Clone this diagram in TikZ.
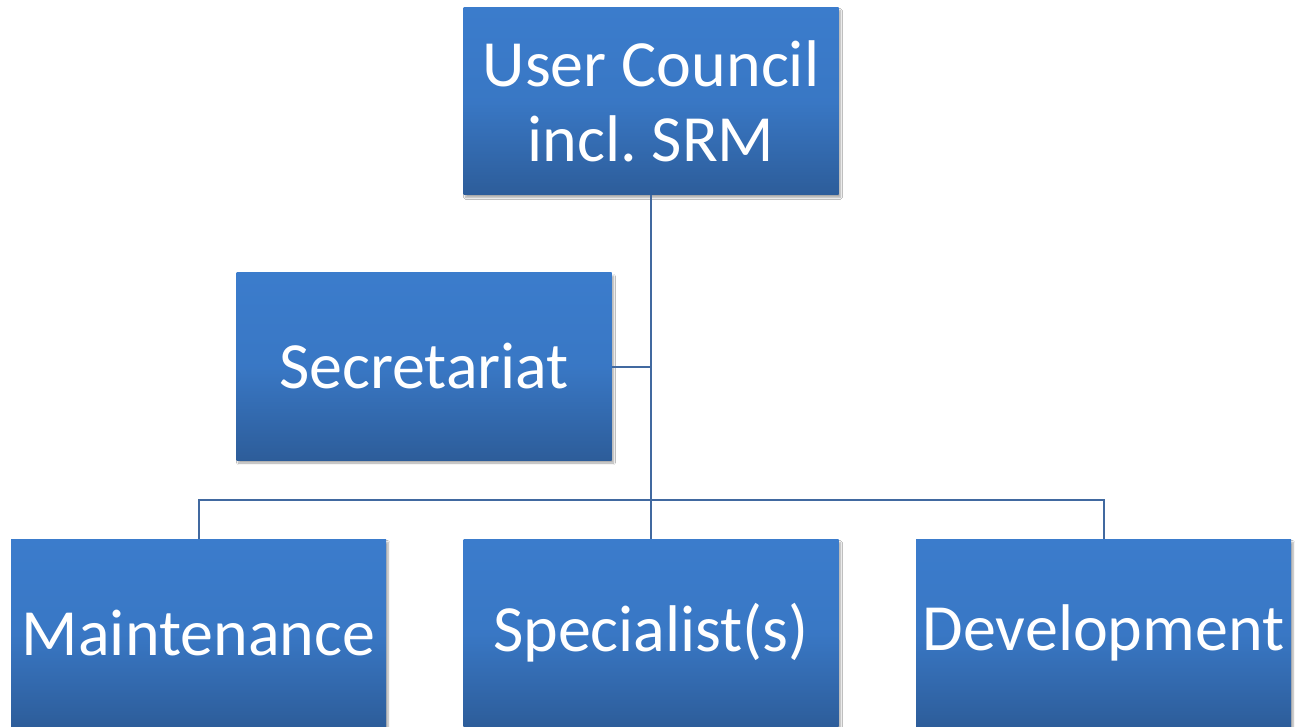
\documentclass[tikz,border=0pt]{standalone}
\usepackage{fontspec}
\setmainfont{Carlito}
\usetikzlibrary{shadows.blur}
\definecolor{boxtop}{HTML}{3B7CCC}
\definecolor{boxbot}{HTML}{2D5D9A}
\definecolor{linkcol}{HTML}{4169A0}
\tikzset{
  orgbox/.style={rectangle, minimum width=375pt, minimum height=187pt, inner sep=0pt,
    top color=boxtop, bottom color=boxbot, middle color=boxtop!85!boxbot,
    text=white, align=center,
    font=\fontsize{66}{75}\selectfont,
    blur shadow={shadow xshift=2pt, shadow yshift=-3pt, shadow blur steps=6, shadow opacity=35}},
  link/.style={draw=linkcol, line width=2pt}
}
\begin{document}
\begin{tikzpicture}[x=1pt,y=-1pt]
\useasboundingbox (0,0) rectangle (1296,727);
\clip (0,0) rectangle (1296,727);
\fill[white] (0,0) rectangle (1296,727);
\coordinate (hl) at (198.5,500);
\coordinate (hr) at (1103.5,500);
\coordinate (sj) at (651,366.5);
\node[orgbox] (uc) at (651,101) {User Council\\incl.\ SRM};
\node[orgbox] (sec) at (424,366.5) {Secretariat};
\node[orgbox] (mai) at (198.5,633) {Maintenance};
\node[orgbox] (spe) at (651,633) {Specialist(s)};
\node[orgbox] (dev) at (1103.5,633) {Development};
\draw[link] (uc.south) -- (spe.north);
\draw[link] (sec.east) -- (sj);
\draw[link] (mai.north) -- (hl) -- (hr) -- (dev.north);
\end{tikzpicture}
\end{document}
